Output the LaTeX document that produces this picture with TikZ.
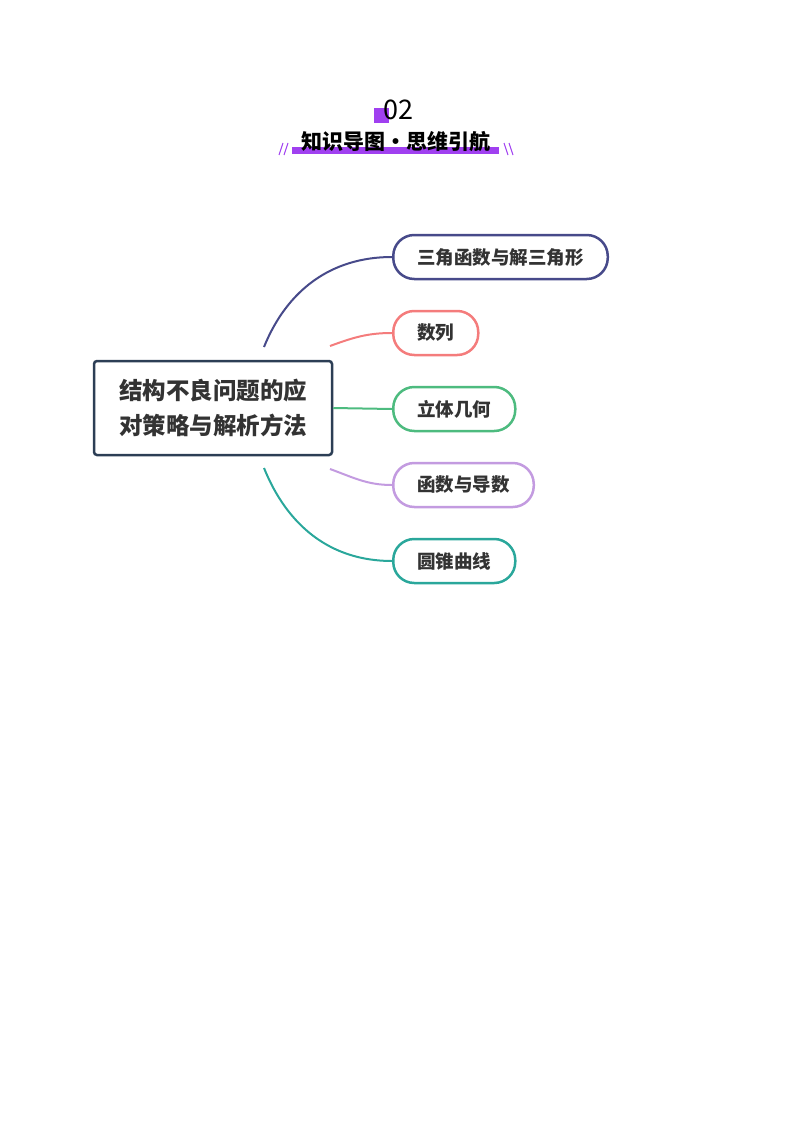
\documentclass[tikz,border=0pt]{standalone}
\usepackage{fontspec}
\setmainfont{Noto Sans CJK SC}
\usepackage{xcolor}
\usepackage{tikz}
\usetikzlibrary{positioning}

\definecolor{rootc}{HTML}{2C3E55}
\definecolor{navyc}{HTML}{474A8A}
\definecolor{redc}{HTML}{F47C7C}
\definecolor{greenc}{HTML}{4DBB7F}
\definecolor{lilac}{HTML}{C39BE0}
\definecolor{tealc}{HTML}{2AA79B}
\definecolor{purp}{HTML}{A040F0}
\definecolor{textc}{HTML}{333333}

\begin{document}
\begin{tikzpicture}[x=1pt, y=-1pt,
    root/.style={draw=rootc, line width=2.5pt, rounded corners=3pt, minimum width=238pt,
      minimum height=94pt, align=center, font=\bfseries\fontsize{23.5}{35}\selectfont, text=textc},
    leaf/.style={draw=#1, line width=2.5pt, rounded corners=21pt, minimum height=44pt,
      inner xsep=24pt, anchor=west, font=\bfseries\fontsize{18.5}{20}\selectfont, text=textc},
    link/.style={draw=#1, line width=2pt}]
        \useasboundingbox (0,0) rectangle (800,1132);

        % header
        \fill[purp] (374,108) rectangle (389,123);
        \node (num) at (398,110) {\fontsize{27}{30}\selectfont 02};
        \fill[purp] (292,147) rectangle (499,154);
        \node (title) at (396,142) {\bfseries\fontsize{21}{24}\selectfont 知识导图·思维引航};
        \draw[purp, line width=1pt] (279,155) -- (283,143) (284,155) -- (288,143);
        \draw[purp, line width=1pt] (504,143) -- (508,155) (509,143) -- (513,155);

        % nodes
        \node[root] (A) at (213,408) {结构不良问题的应\\对策略与解析方法};
        \node[leaf=navyc] (B) at (392,257) {三角函数与解三角形};
        \node[leaf=redc] (C) [below=76pt of B.west, anchor=west] {数列};
        \node[leaf=greenc] (D) [below=76pt of C.west, anchor=west] {立体几何};
        \node[leaf=lilac] (E) [below=76pt of D.west, anchor=west] {函数与导数};
        \node[leaf=tealc] (F) [below=76pt of E.west, anchor=west] {圆锥曲线};

        \coordinate (a1) at (264,347);
        \coordinate (a2) at (330,346);
        \coordinate (a4) at (330,469);
        \coordinate (a5) at (264,468);

        \path
          (a1) edge[link=navyc, out=68, in=180] (B.west)
          (a2) edge[link=redc, out=20, in=180] (C.west)
          (A.east) edge[link=greenc] (D.west)
          (a4) edge[link=lilac, out=-20, in=180] (E.west)
          (a5) edge[link=tealc, out=-68, in=180] (F.west);
\end{tikzpicture}
\end{document}
